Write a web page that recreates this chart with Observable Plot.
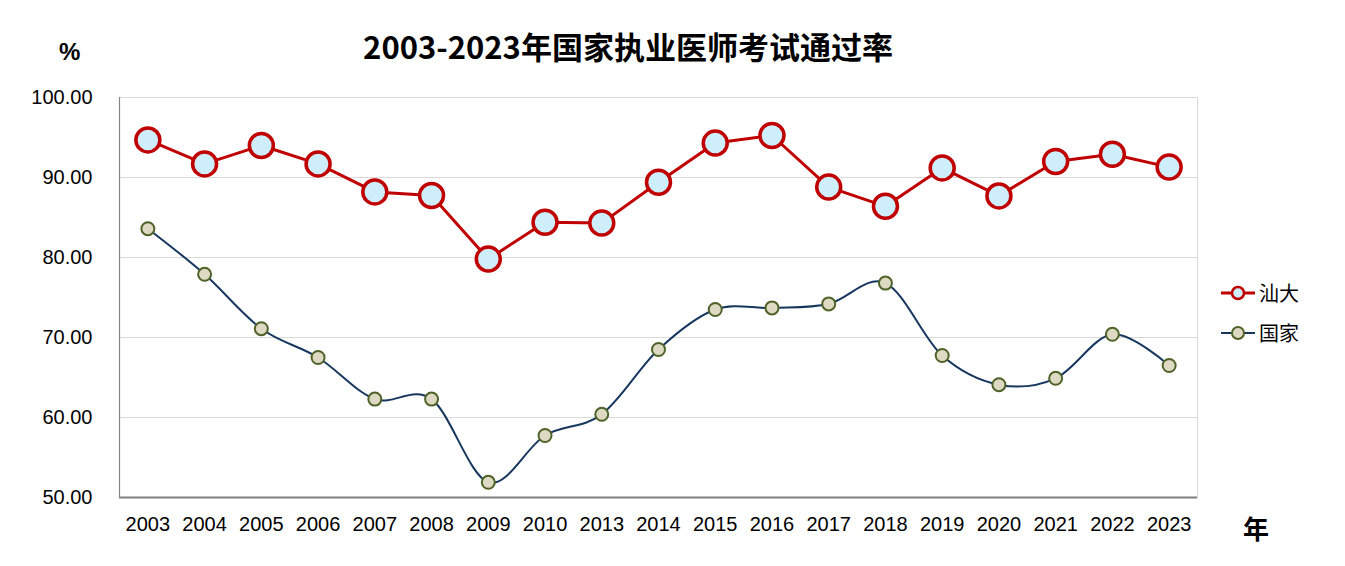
<!DOCTYPE html>
<html>
<head>
<meta charset="utf-8">
<script src="https://cdn.jsdelivr.net/npm/d3@7"></script>
<script src="https://cdn.jsdelivr.net/npm/@observablehq/plot@0.6"></script>
<style>
  html, body { margin: 0; padding: 0; background: #fff; }
  #wrap { position: relative; width: 1345px; height: 566px; overflow: hidden; font-family: "Noto Sans CJK SC", "Liberation Sans", sans-serif; }
  #chart { position: absolute; left: 0; top: 0; }
  .abs { position: absolute; white-space: nowrap; color: #000; }
  #title { left: 0; width: 1256px; top: 26px; text-align: center; font-size: 31px; font-weight: bold; line-height: 40px; }
  #pct { left: 59px; top: 34px; font-size: 24px; font-weight: bold; line-height: 36px; font-family: "Liberation Sans", sans-serif; }
  #nian { left: 1243px; top: 510px; font-size: 26px; font-weight: bold; line-height: 36px; }
  .leg { left: 1220px; font-size: 20px; line-height: 28px; display: flex; align-items: center; }
  .leg svg { margin-right: 3px; }
</style>
</head>
<body>
<div id="wrap">
  <div id="chart"></div>
  <div class="abs" id="title">2003-2023年国家执业医师考试通过率</div>
  <div class="abs" id="pct">%</div>
  <div class="abs" id="nian">年</div>
  <div class="abs leg" style="top:279px">
    <svg width="36" height="20"><line x1="1" y1="10" x2="35" y2="10" stroke="#c00000" stroke-width="3"/><circle cx="18" cy="10" r="6" fill="#cdeefa" stroke="#c00000" stroke-width="2.5"/></svg>汕大
  </div>
  <div class="abs leg" style="top:319px">
    <svg width="36" height="20"><line x1="1" y1="10" x2="35" y2="10" stroke="#17375e" stroke-width="2"/><circle cx="18" cy="10" r="6" fill="#ddd9c3" stroke="#4f6228" stroke-width="2"/></svg>国家
  </div>
</div>
<script>
const years = ["2003","2004","2005","2006","2007","2008","2009","2010","2013","2014","2015","2016","2017","2018","2019","2020","2021","2022","2023"];
const shantou = [94.7,91.7,94.0,91.7,88.2,87.75,79.8,84.4,84.3,89.4,94.3,95.25,88.8,86.4,91.2,87.7,92.0,92.9,91.3];
const national = [83.6,77.9,71.1,67.5,62.3,62.3,51.9,57.75,60.4,68.5,73.5,73.7,74.2,76.8,67.75,64.1,64.9,70.4,66.5];
const yTicks = [50,60,70,80,90,100];

const dataS = years.map((y, i) => ({year: y, value: shantou[i]}));
const dataN = years.map((y, i) => ({year: y, value: national[i]}));

const chart = Plot.plot({
  width: 1345,
  height: 566,
  marginLeft: 119,
  marginRight: 148,
  marginTop: 97,
  marginBottom: 69,
  style: {fontFamily: "Liberation Sans, DejaVu Sans, sans-serif", fontSize: "20px", color: "#000", background: "#fff"},
  x: {type: "point", domain: years, padding: 0.5, align: 0.5, round: false},
  y: {domain: [50, 100]},
  marks: [
    Plot.gridY(yTicks.filter(d => d > 50), {stroke: "#d9d9d9", strokeOpacity: 1, strokeWidth: 1}),
    Plot.frame({stroke: "#d9d9d9"}),
    Plot.frame({anchor: "left", stroke: "#868686", strokeWidth: 1.2}),
    Plot.ruleY([50], {stroke: "#808080", strokeWidth: 2}),
    Plot.axisY({ticks: yTicks, tickSize: 0, tickPadding: 27, tickFormat: d3.format(".2f"), label: null}),
    Plot.axisX({tickSize: 0, tickPadding: 19, label: null, fontSize: 20}),
    Plot.line(dataN, {x: "year", y: "value", stroke: "#17375e", strokeWidth: 2, curve: "cardinal", tension: 0}),
    Plot.line(dataS, {x: "year", y: "value", stroke: "#c00000", strokeWidth: 3}),
    Plot.dot(dataN, {x: "year", y: "value", r: 6.5, fill: "#ddd9c3", stroke: "#4f6228", strokeWidth: 2}),
    Plot.dot(dataS, {x: "year", y: "value", r: 12, fill: "#cdeefa", stroke: "#c00000", strokeWidth: 3.5})
  ]
});
document.getElementById("chart").appendChild(chart);
</script>
</body>
</html>
